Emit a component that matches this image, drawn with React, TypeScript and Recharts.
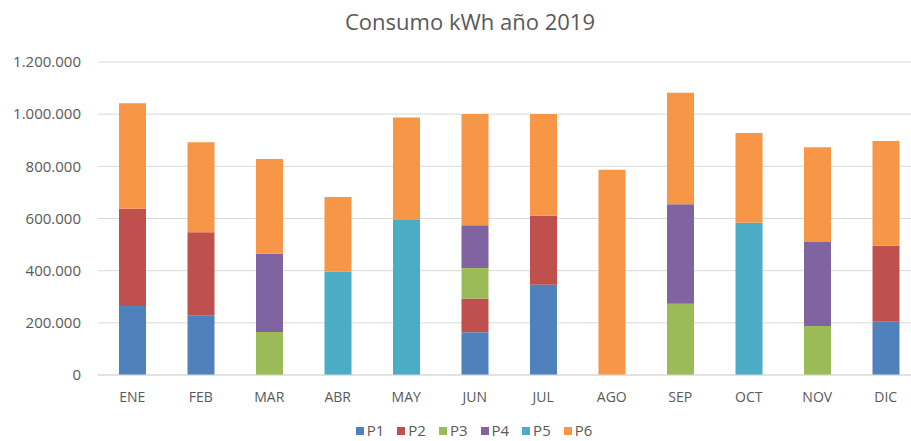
import React from 'react';
import { BarChart, Bar, XAxis, YAxis, CartesianGrid } from 'recharts';

const months = ['ENE', 'FEB', 'MAR', 'ABR', 'MAY', 'JUN', 'JUL', 'AGO', 'SEP', 'OCT', 'NOV', 'DIC'];
const p1 = [265000, 229000, 0, 0, 0, 164000, 346000, 0, 0, 0, 0, 204000];
const p2 = [372000, 318000, 0, 0, 0, 129000, 265000, 0, 0, 0, 0, 292000];
const p3 = [0, 0, 165000, 0, 0, 117000, 0, 0, 273000, 0, 188000, 0];
const p4 = [0, 0, 300000, 0, 0, 164000, 0, 0, 382000, 0, 322000, 0];
const p5 = [0, 0, 0, 397000, 597000, 0, 0, 0, 0, 584000, 0, 0];
const p6 = [405000, 345000, 363000, 285000, 390000, 427000, 390000, 787000, 427000, 344000, 363000, 401000];
const yTicks = [0, 200000, 400000, 600000, 800000, 1000000, 1200000];

const seriesKeys = ['P1', 'P2', 'P3', 'P4', 'P5', 'P6'];
const seriesColors = ['#4f81bd', '#c0504d', '#9bbb59', '#8064a2', '#4bacc6', '#f79646'];

const data = months.map((m, i) => ({
  month: m,
  P1: p1[i], P2: p2[i], P3: p3[i], P4: p4[i], P5: p5[i], P6: p6[i],
}));

const fmt = (v: number) => String(v).replace(/\B(?=(\d{3})+(?!\d))/g, '.');
const FONT = '"Open Sans", sans-serif';

export default function App() {
  return (
    <div style={{ position: 'absolute', left: 0, top: 0, width: 911, height: 441, overflow: 'hidden', background: '#fff' }}>
      <div style={{ position: 'absolute', left: 0, top: 6, width: 940, textAlign: 'center', fontFamily: FONT, fontSize: 22, lineHeight: '30px', color: '#595959' }}>
        Consumo kWh año 2019
      </div>
      <BarChart width={925} height={441} data={data} margin={{ top: 62, right: 5, bottom: 36, left: 0 }} barSize={27}>
        <CartesianGrid vertical={false} stroke="#d9d9d9" />
        <XAxis
          dataKey="month"
          axisLine={{ stroke: '#d9d9d9' }}
          tickLine={false}
          tickSize={0}
          tickMargin={17}
          height={30}
          tick={{ fill: '#595959', fontSize: 14, fontFamily: FONT }}
        />
        <YAxis
          width={98}
          domain={[0, 1200000]}
          ticks={yTicks}
          tickFormatter={fmt}
          axisLine={false}
          tickLine={false}
          tickSize={0}
          tickMargin={17}
          tick={{ fill: '#595959', fontSize: 15, fontFamily: FONT }}
        />
        {seriesKeys.map((k, i) => (
          <Bar key={k} dataKey={k} stackId="a" fill={seriesColors[i]} isAnimationActive={false} />
        ))}
      </BarChart>
      <div style={{ position: 'absolute', left: 0, top: 423, width: 948, display: 'flex', justifyContent: 'center', fontFamily: FONT, fontSize: 15, lineHeight: '15px', color: '#595959' }}>
        {seriesKeys.map((k, i) => (
          <div key={k} style={{ display: 'flex', alignItems: 'center', marginRight: i < 5 ? 13 : 0 }}>
            <span style={{ display: 'inline-block', width: 8, height: 8, background: seriesColors[i], marginRight: 3 }} />
            <span>{k}</span>
          </div>
        ))}
      </div>
    </div>
  );
}
